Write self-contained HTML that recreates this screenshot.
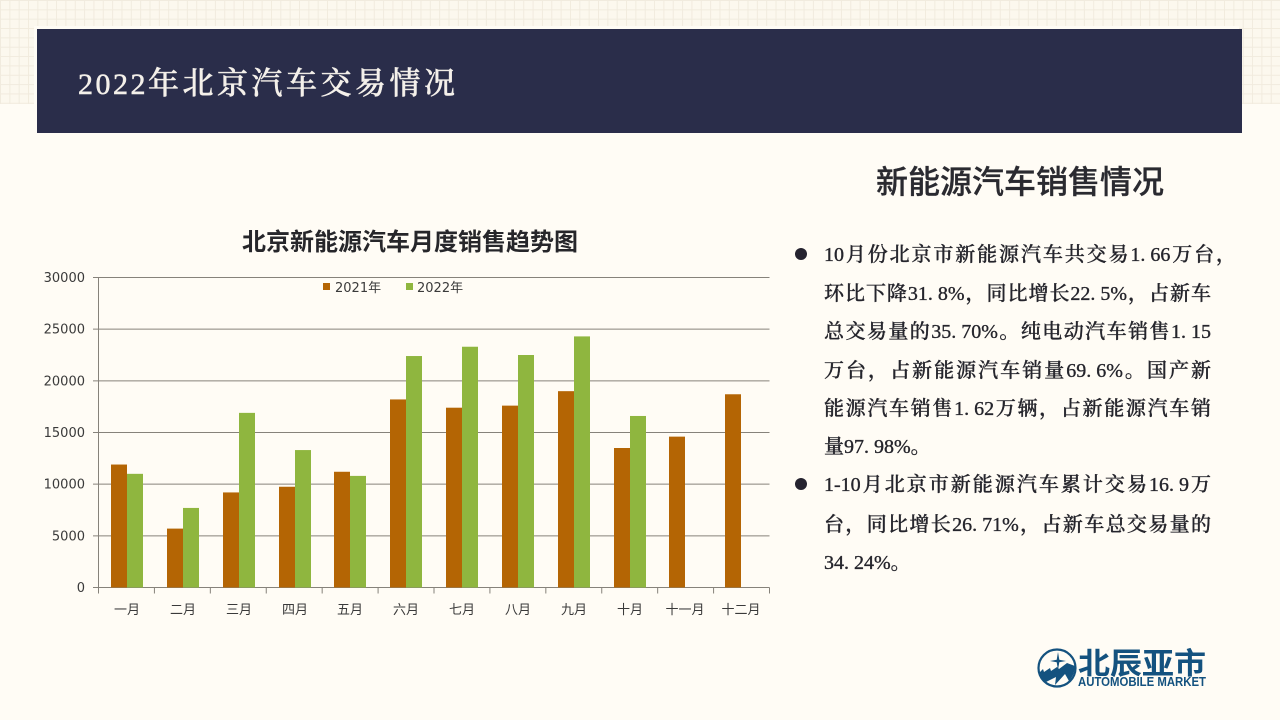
<!DOCTYPE html>
<html lang="zh-CN">
<head>
<meta charset="utf-8">
<title>2022年北京汽车交易情况</title>
<style>
html,body{margin:0;padding:0;width:1280px;height:720px;overflow:hidden;background:#fffcf5;}
body{position:relative;font-family:"Liberation Serif","Noto Serif CJK SC",serif;}
.abs{position:absolute;}
#grid-band{left:0;top:0;width:1280px;height:104px;background-color:#fcf8ee;
background-image:linear-gradient(to right,#f1ebde 1px,transparent 1px),linear-gradient(to bottom,#f1ebde 1px,transparent 1px);
background-size:9.35px 9.35px;}
#header{left:37px;top:29px;width:1205px;height:104px;background:#2a2d4a;box-shadow:-3px -3px 0 #fffcf5;}
#header-title{left:78px;top:58px;height:52px;line-height:52px;color:#f4f0ea;font-size:31px;white-space:nowrap;letter-spacing:3.5px;font-weight:500;-webkit-text-stroke:0.5px #f4f0ea;}
#header-title .d{font-size:30px;letter-spacing:2.5px;}
#side-title{left:820px;width:400px;top:160px;height:44px;line-height:44px;text-align:center;font-family:"Liberation Sans","Noto Sans CJK SC",sans-serif;font-size:32px;font-weight:500;-webkit-text-stroke:0.3px #2a2a30;color:#2a2a30;white-space:nowrap;}
.ln{position:absolute;left:824px;width:387px;height:30px;line-height:30px;font-size:20px;color:#25252c;font-weight:500;-webkit-text-stroke:0.35px #25252c;white-space:nowrap;text-align:justify;text-align-last:justify;}
.ln.end{text-align:left;text-align-last:left;}
.p{margin-right:5px;}
.bullet{position:absolute;left:795px;width:12px;height:12px;border-radius:50%;background:#25232f;}
svg text{font-family:"DejaVu Sans","Noto Sans CJK SC",sans-serif;}
</style>
</head>
<body>
<div class="abs" id="grid-band"></div>
<div class="abs" id="header"></div>
<div class="abs" id="header-title"><span class="d">2022</span>年北京汽车交易情况</div>

<svg class="abs" id="chart" style="left:0;top:0" width="1280" height="720" viewBox="0 0 1280 720" xmlns="http://www.w3.org/2000/svg">
  <text x="410" y="250" text-anchor="middle" font-size="24" font-weight="700" fill="#26262a" style="font-family:'Liberation Sans','Noto Sans CJK SC',sans-serif">北京新能源汽车月度销售趋势图</text>
  <g id="gridlines"></g>
  <g id="bars"></g>
  <g id="axes"></g>
  <g id="legend"></g>
</svg>

<div class="abs" id="side-title">新能源汽车销售情况</div>

<div class="bullet" style="top:248px"></div>
<div class="ln" style="top:240px;width:412px">10月份北京市新能源汽车共交易1<span class="p">.</span>66万台，</div>
<div class="ln" style="top:279px">环比下降31<span class="p">.</span>8%，同比增长22<span class="p">.</span>5%，占新车</div>
<div class="ln" style="top:317px">总交易量的35<span class="p">.</span>70%。纯电动汽车销售1<span class="p">.</span>15</div>
<div class="ln" style="top:356px">万台，占新能源汽车销量69<span class="p">.</span>6%。国产新</div>
<div class="ln" style="top:394px">能源汽车销售1<span class="p">.</span>62万辆，占新能源汽车销</div>
<div class="ln end" style="top:432px">量97<span class="p">.</span>98%。</div>

<div class="bullet" style="top:478px"></div>
<div class="ln" style="top:470px">1-10月北京市新能源汽车累计交易16<span class="p">.</span>9万</div>
<div class="ln" style="top:510px">台，同比增长26<span class="p">.</span>71%，占新车总交易量的</div>
<div class="ln end" style="top:548px">34<span class="p">.</span>24%。</div>

<svg class="abs" style="left:1030px;top:640px" width="190" height="55" viewBox="0 0 190 55" xmlns="http://www.w3.org/2000/svg">
  <circle cx="27" cy="28" r="18.5" fill="#fffcf5" stroke="#14527f" stroke-width="2.2"/>
  <path d="M9 33 L13 29 L14 32 L20 28 L21 31 L27 27 L29 29 L37 23 L45 26 Q45 34 39 41 L35 34 L25 45 L26 37 L16 42 Q11 38 9 33 Z" fill="#14527f"/>
  <path d="M28 12 L29.3 19.7 L36 21 L29.3 22.3 L28 30 L26.7 22.3 L20 21 L26.7 19.7 Z" fill="#14527f"/>
  <text x="48" y="34" font-size="30" font-weight="700" fill="#14527f" textLength="128" lengthAdjust="spacingAndGlyphs" style="font-family:'Liberation Sans','Noto Sans CJK SC',sans-serif">北辰亚市</text>
  <text x="48" y="46" font-size="13" font-weight="700" fill="#14527f" textLength="128" lengthAdjust="spacingAndGlyphs" style="font-family:'Liberation Sans',sans-serif">AUTOMOBILE MARKET</text>
</svg>

<script>
const categories = ['一月','二月','三月','四月','五月','六月','七月','八月','九月','十月','十一月','十二月'];
const series2021 = [11900,5700,9200,9750,11200,18200,17400,17600,19000,13500,14600,18700];
const series2022 = [11000,7700,16900,13300,10800,22400,23300,22500,24300,16600,null,null];
const yTickValues = [0,5000,10000,15000,20000,25000,30000];
const seriesNames = ['2021年','2022年'];

const NS = 'http://www.w3.org/2000/svg';
const plot = {left:98.5,right:769.5,top:277.5,bottom:587.5,yMax:30000};
const colors = ['#b46504','#8fb63f'];
const lineColor = '#86827a';
const barW = 16;
function yScale(v){return plot.bottom-(v/plot.yMax)*(plot.bottom-plot.top);}
function bandW(){return (plot.right-plot.left)/categories.length;}
function xScale(i){return plot.left+bandW()*i;}
function xCenter(i){return Math.round(plot.left+28.5+(bandW()-0.077)*i);}
function mk(tag,attrs,parent){
  const el=document.createElementNS(NS,tag);
  for(const k in attrs){el.setAttribute(k,attrs[k]);}
  parent.appendChild(el);
  return el;
}
const gGrid=document.getElementById('gridlines');
const gBars=document.getElementById('bars');
const gAxes=document.getElementById('axes');
const gLegend=document.getElementById('legend');

yTickValues.forEach(function(v){
  const y=yScale(v);
  const ln=mk('line',{x1:93,x2:plot.right,y1:y,y2:y,stroke:lineColor,'stroke-width':1},gGrid);
  
  
  const t=mk('text',{x:85,y:y+4.5,'text-anchor':'end','font-size':13,fill:'#3a3a3a'},gAxes);
  
  
  t.textContent=String(v);
});

[series2021,series2022].forEach(function(values,s){
  values.forEach(function(v,i){
    if(v===null){return;}
    const cx=xCenter(i);
    const r=mk('rect',{x:cx-barW+s*barW,y:yScale(v),width:barW,height:plot.bottom-yScale(v),fill:colors[s]},gBars);
    
    
  });
});

const yAxis=mk('line',{x1:plot.left,x2:plot.left,y1:plot.top,y2:plot.bottom,stroke:lineColor,'stroke-width':1},gAxes);



for(let i=0;i<=categories.length;i++){
  const x=xScale(i);
  const tk=mk('line',{x1:x,x2:x,y1:plot.bottom,y2:plot.bottom+6,stroke:lineColor,'stroke-width':1},gAxes);
  
  
}
categories.forEach(function(c,i){
  const t=mk('text',{x:xCenter(i),y:614,'text-anchor':'middle','font-size':13,fill:'#3a3a3a'},gAxes);
  
  
  t.textContent=c;
});

seriesNames.forEach(function(name,s){
  const x=323+s*83;
  const sw=mk('rect',{x:x,y:283,width:7,height:7,fill:colors[s]},gLegend);
  
  
  const t=mk('text',{x:x+12-s,y:292,'font-size':13,fill:'#3a3a3a'},gLegend);
  
  
  t.textContent=name;
});
</script>
</body>
</html>
